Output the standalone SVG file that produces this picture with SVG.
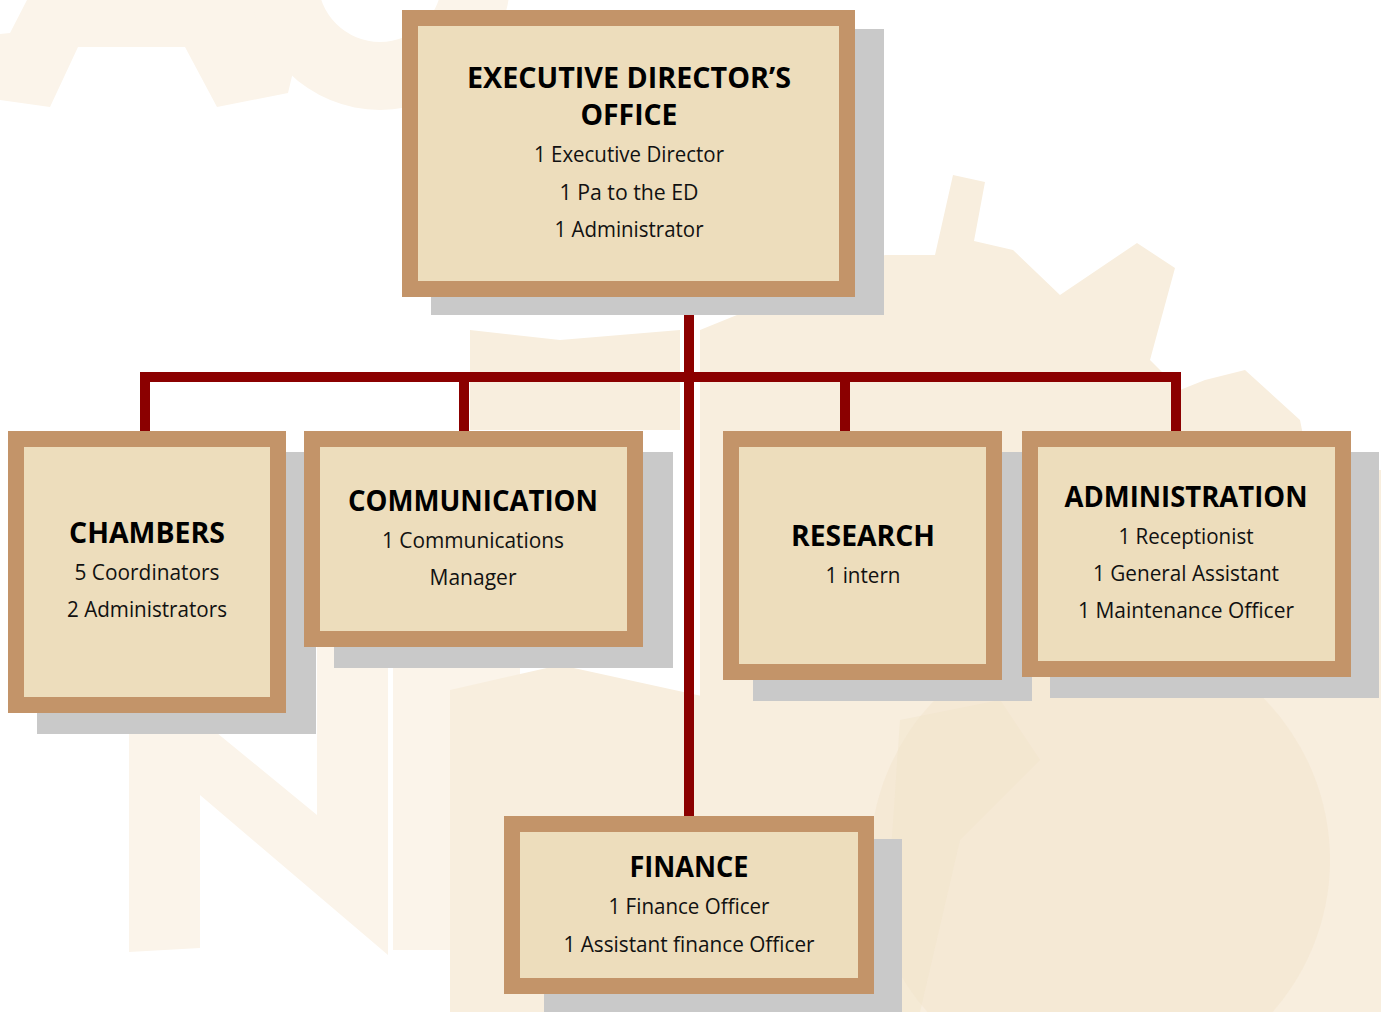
<svg xmlns="http://www.w3.org/2000/svg" width="1381" height="1012" viewBox="0 0 1381 1012">
<defs>
<style>
.bg{fill:#FBF4EA}
.bg2{fill:#F8EEDE}
.bg3{fill:#F1E3C9}
.shadow{fill:#C9C9C9}
.box{fill:#EDDDBC;stroke:#C39469;stroke-width:16}
.conn{fill:none;stroke:#8B0000;stroke-width:10;stroke-linejoin:miter;stroke-linecap:butt}
.h{font-family:"Open Sans","Noto Sans","Liberation Sans",sans-serif;font-weight:700;font-size:28px;fill:#000;text-anchor:middle}
.t{font-family:"Open Sans","Noto Sans","Liberation Sans",sans-serif;font-weight:400;font-size:21px;fill:#111;text-anchor:middle}
</style>
</defs>
<rect width="1381" height="1012" fill="#FFFFFF"/>
<g id="watermark">
<path class="bg" d="M0,34 L10,33 L27,0 L310,0 L288,93 L217,107 L185,47 L78,47 L50,107 L0,100 Z"/>
<path class="bg" d="M250,-20 A130,130 0 0 0 510,-20 L442,-20 A62,62 0 0 1 318,-20 Z"/>
<path class="bg" d="M129,733 L217,733 L317,815 L317,600 L388,600 L388,955 L200,795 L200,948 L129,952 Z"/>
<path class="bg" d="M393,600 L520,600 L520,950 L393,950 Z"/>
<path class="bg2" d="M450,690 L560,665 L720,700 L720,1012 L450,1012 Z"/>
<path class="bg2" d="M470,330 L560,340 L680,330 L680,430 L470,430 Z"/>
<path class="bg2" d="M885,255 L935,255 L953,175 L985,182 L974,241 L1013,250 L1060,295 L1137,243 L1175,268 L1150,360 L1180,390 L1205,380 L1245,370 L1300,420 L1310,470 L1381,470 L1381,1012 L700,1012 L700,330 Z"/>
<circle class="bg3" cx="1100" cy="860" r="230" opacity="0.45"/>
<path class="bg3" d="M900,720 L1000,700 L1040,760 L960,840 L920,1012 L880,1012 Z" opacity="0.4"/>
</g>
<g id="connectors">
<path class="conn" d="M145,431 V377 H1176 V431"/>
<path class="conn" d="M464,377 V431"/>
<path class="conn" d="M845,377 V431"/>
<path class="conn" d="M689,297 V816"/>
</g>
<g id="executive-directors-office">
<rect class="shadow" x="431" y="29" width="453" height="286"/>
<rect class="box" x="410" y="18" width="437" height="271"/>
<text class="h" x="629" y="88" textLength="324" lengthAdjust="spacingAndGlyphs">EXECUTIVE DIRECTOR’S</text>
<text class="h" x="629" y="125" textLength="97" lengthAdjust="spacingAndGlyphs">OFFICE</text>
<text class="t" x="629" y="162" textLength="190" lengthAdjust="spacingAndGlyphs">1 Executive Director</text>
<text class="t" x="629" y="200" textLength="139" lengthAdjust="spacingAndGlyphs">1 Pa to the ED</text>
<text class="t" x="629" y="237" textLength="149" lengthAdjust="spacingAndGlyphs">1 Administrator</text>
</g>
<g id="chambers">
<rect class="shadow" x="37" y="452" width="279" height="282"/>
<rect class="box" x="16" y="439" width="262" height="266"/>
<text class="h" x="147" y="543" textLength="156" lengthAdjust="spacingAndGlyphs">CHAMBERS</text>
<text class="t" x="147" y="580" textLength="145" lengthAdjust="spacingAndGlyphs">5 Coordinators</text>
<text class="t" x="147" y="617" textLength="160" lengthAdjust="spacingAndGlyphs">2 Administrators</text>
</g>
<g id="communication">
<rect class="shadow" x="334" y="452" width="339" height="216"/>
<rect class="box" x="312" y="439" width="323" height="200"/>
<text class="h" x="473" y="511" textLength="250" lengthAdjust="spacingAndGlyphs">COMMUNICATION</text>
<text class="t" x="473" y="548" textLength="182" lengthAdjust="spacingAndGlyphs">1 Communications</text>
<text class="t" x="473" y="585" textLength="87" lengthAdjust="spacingAndGlyphs">Manager</text>
</g>
<g id="research">
<rect class="shadow" x="753" y="452" width="279" height="249"/>
<rect class="box" x="731" y="439" width="263" height="233"/>
<text class="h" x="863" y="546" textLength="144" lengthAdjust="spacingAndGlyphs">RESEARCH</text>
<text class="t" x="863" y="583" textLength="75" lengthAdjust="spacingAndGlyphs">1 intern</text>
</g>
<g id="administration">
<rect class="shadow" x="1050" y="452" width="329" height="246"/>
<rect class="box" x="1030" y="439" width="313" height="230"/>
<text class="h" x="1186" y="507" textLength="243" lengthAdjust="spacingAndGlyphs">ADMINISTRATION</text>
<text class="t" x="1186" y="544" textLength="135" lengthAdjust="spacingAndGlyphs">1 Receptionist</text>
<text class="t" x="1186" y="581" textLength="186" lengthAdjust="spacingAndGlyphs">1 General Assistant</text>
<text class="t" x="1186" y="618" textLength="216" lengthAdjust="spacingAndGlyphs">1 Maintenance Officer</text>
</g>
<g id="finance">
<rect class="shadow" x="544" y="839" width="358" height="180"/>
<rect class="box" x="512" y="824" width="354" height="162"/>
<text class="h" x="689" y="877" textLength="119" lengthAdjust="spacingAndGlyphs">FINANCE</text>
<text class="t" x="689" y="914" textLength="161" lengthAdjust="spacingAndGlyphs">1 Finance Officer</text>
<text class="t" x="689" y="952" textLength="251" lengthAdjust="spacingAndGlyphs">1 Assistant finance Officer</text>
</g>
</svg>
